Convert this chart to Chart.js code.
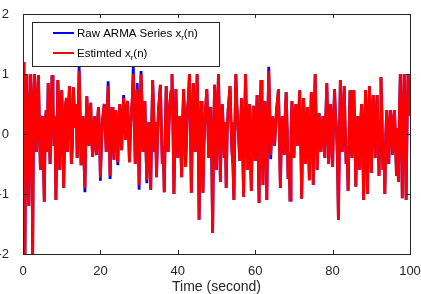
<!DOCTYPE html>
<html>
<head>
<meta charset="utf-8">
<script src="https://cdn.jsdelivr.net/npm/chart.js@4.4.1/dist/chart.umd.min.js"></script>
<style>
  html, body { margin: 0; padding: 0; background: #fff; }
  #wrap { width: 421px; height: 294px; }
</style>
</head>
<body>
<div id="wrap"><canvas id="armaChart" width="421" height="294"></canvas></div>
<script>
// sample spacing of the series (seconds)
const timeStep = 0.25;

// estimated series x_r(n) (0 .. 100 s)
const estimated = [
  1.2, 0.3, -2, 0.6, 1.0, -0.5, -1.2, 0.4, 1.0, 0.2, -2, 0.5, 1.0, 0.4, -0.3, 0.5, 0.98, 0.1, -0.6, 0.2,
  0.3, -0.4, -1.13, 0.2, 0.4, -0.3, 0.85, 0.1, -0.5, 0.3, 0.98, 0.5, -0.2, 0.3, -1.1, -0.2, 0.9, 0.4, -0.6, 0.1,
  0.73, 0.2, -0.9, -0.1, 0.5, 0.6, -0.3, 0.4, 0.8, 0.3, -0.5, -0.2, 0.78, 0.45, 0.1, 0.5, -0.4, 0.2, 1.05, 0.35,
  -0.52, 0.1, 0.3, -0.4, -0.9, 0.1, 0.63, 0.2, -0.2, 0.35, 0.52, -0.1, -0.38, 0.1, 0.3, -0.2, -0.35, 0.2, 0.45, 0.05,
  -0.73, -0.2, 0.2, 0.35, 0.5, 0.1, -0.3, 0.3, 0.8, 0.2, -0.7, -0.1, 0.45, 0.1, -0.43, 0.2, 0.4, -0.1, -0.47, 0.15,
  0.5, 0.2, -0.27, 0.3, 0.6, 0.25, -0.1, 0.4, 0.55, 0.1, -0.47, 0.0, 0.33, 0.6, 1.0, 0.3, -0.5, 0.2, 0.75, 0.3,
  -0.85, 0.2, 1.0, 0.5, -0.3, 0.1, 0.55, -0.2, -0.77, -0.1, 0.2, -0.4, -0.93, 0.1, 0.9, 0.4, -0.3, 0.2, -0.72, -0.1,
  0.4, 0.6, 0.82, 0.1, -0.5, -0.2, -0.97, 0.0, 0.8, 0.3, -0.3, 0.2, 0.55, 0.7, 1.0, 0.1, -1.0, -0.1, 0.75, 0.2,
  -0.4, 0.1, 0.3, -0.2, -0.72, 0.2, 0.75, 0.3, -0.55, -0.1, 0.4, 0.6, 1.0, 0.2, -0.98, 0.1, 0.85, 0.4, -0.3, 0.3,
  1.0, 0.1, -1.43, -0.2, 0.55, 0.0, -0.98, -0.2, 0.25, 0.5, 0.75, 0.2, -0.4, 0.1, 0.45, -0.3, -1.65, -0.1, 0.82, 0.4,
  -0.6, 0.3, 1.0, 0.2, -0.8, 0.1, 0.5, 0.1, -0.4, 0.2, -0.9, 0.0, 0.4, 0.6, 0.8, 0.2, -0.3, -0.5, -1.1, 0.1,
  1.0, 0.5, 0.2, -0.1, -0.45, 0.2, 0.6, -0.2, -1.05, 0.1, 1.0, 0.3, -0.6, 0.0, 0.5, -0.3, -0.95, 0.0, 0.47, 0.1,
  -0.45, 0.2, 0.65, -0.2, -1.15, 0.1, 0.9, 0.2, -0.85, -0.1, 0.55, 0.1, -1.1, 0.2, 1.05, 0.4, -0.35, 0.0, 0.3, 0.1,
  -0.2, 0.1, 0.4, 0.55, 0.75, 0.0, -0.9, -0.1, 0.3, 0.0, -0.35, 0.3, 0.7, 0.1, -0.75, -0.3, -1.1, 0.0, 0.55, 0.1,
  -0.4, 0.2, 0.5, 0.1, -0.2, 0.35, 0.73, 0.0, -1.08, -0.1, 0.6, 0.2, -0.5, 0.1, 0.45, -0.2, -0.77, 0.1, 0.7, 0.2,
  -0.85, 0.3, 1.0, 0.2, -0.6, -0.1, 0.35, 0.0, -0.3, 0.1, 0.3, -0.1, -0.4, 0.3, 0.85, 0.2, -0.5, 0.1, 0.5, -0.1,
  -0.55, 0.2, 0.75, 0.3, 0.1, -0.4, -1.43, -0.2, 0.9, 0.3, -0.3, 0.2, 0.8, 0.1, -0.5, -0.2, -0.95, 0.0, 0.73, 0.2,
  -0.4, 0.3, 0.73, 0.0, -0.88, -0.1, 0.3, 0.1, -0.6, 0.2, 0.5, 0.1, -1.1, -0.2, 0.73, 0.2, -1.0, 0.0, 0.8, 0.3,
  -0.65, 0.1, 0.65, 0.2, -0.4, 0.3, 0.65, 0.0, -0.7, 0.2, 0.95, 0.3, -0.6, -0.2, -1.0, 0.0, 0.4, 0.1, -0.5, 0.0,
  0.4, 0.1, -0.35, 0.2, 0.4, -0.1, -0.7, 0.1, -0.8, 0.3, 1.0, 0.2, -1.07, 0.3, 1.0, 0.1, -1.1, 0.2, 1.0, 0.6, 0.3
];

// samples where the raw series differs from the estimate: [index, raw value]
const rawDiffs = [
  [58, 1.12], [64, -0.97], [80, -0.78], [88, 0.88], [90, -0.75], [98, -0.52],
  [104, 0.65], [114, 1.12], [118, 0.85], [120, -0.93], [122, 1.05], [128, -0.82],
  [254, 1.12], [256, -0.42]
];

const xTicks = [0, 20, 40, 60, 80, 100];
const yTicks = [-2, -1, 0, 1, 2];
const legendItems = [
  { text: 'Raw ARMA Series x', sub: 'r', tail: '(n)', color: '#0000ff' },
  { text: 'Estimted x', sub: 'r', tail: '(n)', color: '#ff0000' }
];

const raw = estimated.slice();
rawDiffs.forEach(([i, v]) => { raw[i] = v; });
const toPoints = arr => arr.map((v, i) => ({ x: i * timeStep, y: v }));

const axisColor = '#262626';
const fontFam = '"Liberation Sans", Arial, sans-serif';

// MATLAB-ish box, inward ticks and the in-plot legend
const matlabBox = {
  id: 'matlabBox',
  beforeDraw(chart) {
    const ctx = chart.ctx;
    ctx.save();
    ctx.fillStyle = '#fff';
    ctx.fillRect(0, 0, chart.width, chart.height);
    ctx.restore();
  },
  afterDraw(chart) {
    const { ctx, chartArea: a, scales } = chart;
    ctx.save();
    ctx.strokeStyle = axisColor;
    ctx.lineWidth = 1;
    ctx.strokeRect(Math.round(a.left) + 0.5, Math.round(a.top) + 0.5,
      Math.round(a.right - a.left), Math.round(a.bottom - a.top));
    ctx.beginPath();
    xTicks.forEach(v => {
      const px = Math.round(scales.x.getPixelForValue(v)) + 0.5;
      ctx.moveTo(px, a.bottom); ctx.lineTo(px, a.bottom - 4);
      ctx.moveTo(px, a.top); ctx.lineTo(px, a.top + 4);
    });
    yTicks.forEach(v => {
      const py = Math.round(scales.y.getPixelForValue(v)) + 0.5;
      ctx.moveTo(a.left, py); ctx.lineTo(a.left + 4, py);
      ctx.moveTo(a.right, py); ctx.lineTo(a.right - 4, py);
    });
    ctx.stroke();

    // legend
    const lx = 32, ly = 22, lw = 187, lh = 44;
    ctx.fillStyle = '#fff';
    ctx.fillRect(lx, ly, lw, lh);
    ctx.strokeStyle = axisColor;
    ctx.strokeRect(lx + 0.5, ly + 0.5, lw, lh);
    legendItems.forEach((it, k) => {
      const cy = 33 + k * 20;
      ctx.strokeStyle = it.color;
      ctx.lineWidth = 2;
      ctx.beginPath();
      ctx.moveTo(53, cy); ctx.lineTo(74, cy);
      ctx.stroke();
      ctx.fillStyle = '#000';
      ctx.textBaseline = 'alphabetic';
      ctx.font = '11.5px ' + fontFam;
      let tx = 77;
      ctx.fillText(it.text, tx, cy + 4);
      tx += ctx.measureText(it.text).width;
      ctx.font = '8px ' + fontFam;
      ctx.fillText(it.sub, tx, cy + 7);
      tx += ctx.measureText(it.sub).width;
      ctx.font = '11.5px ' + fontFam;
      ctx.fillText(it.tail, tx, cy + 4);
    });
    ctx.restore();
  }
};

new Chart(document.getElementById('armaChart').getContext('2d'), {
  type: 'line',
  data: {
    datasets: [
      { label: 'Raw ARMA Series', data: toPoints(raw), borderColor: '#0000ff',
        borderWidth: 2.8, pointRadius: 0, tension: 0, order: 2 },
      { label: 'Estimted', data: toPoints(estimated), borderColor: '#ff0000',
        borderWidth: 2.8, pointRadius: 0, tension: 0, order: 1 }
    ]
  },
  options: {
    responsive: false,
    animation: false,
    layout: { padding: { top: 14, right: 11, left: 0, bottom: 0 } },
    plugins: { legend: { display: false }, tooltip: { enabled: false } },
    scales: {
      x: {
        type: 'linear', min: 0, max: 100,
        afterBuildTicks: s => { s.ticks = xTicks.map(v => ({ value: v })); },
        afterFit: s => { s.height = 40; s.paddingLeft = 0; s.paddingRight = 0; },
        grid: { display: false },
        border: { display: false },
        ticks: { color: axisColor, padding: 2, maxRotation: 0, font: { family: fontFam, size: 13 } },
        title: { display: true, text: 'Time (second)', color: axisColor, padding: { top: 0, bottom: -2 },
          font: { family: fontFam, size: 14 } }
      },
      y: {
        type: 'linear', min: -2, max: 2,
        afterBuildTicks: s => { s.ticks = yTicks.map(v => ({ value: v })); },
        afterFit: s => { s.width = 23; s.paddingTop = 0; s.paddingBottom = 0; },
        grid: { display: false },
        border: { display: false },
        ticks: { color: axisColor, padding: 6, font: { family: fontFam, size: 13 } }
      }
    }
  },
  plugins: [matlabBox]
});
</script>
</body>
</html>
